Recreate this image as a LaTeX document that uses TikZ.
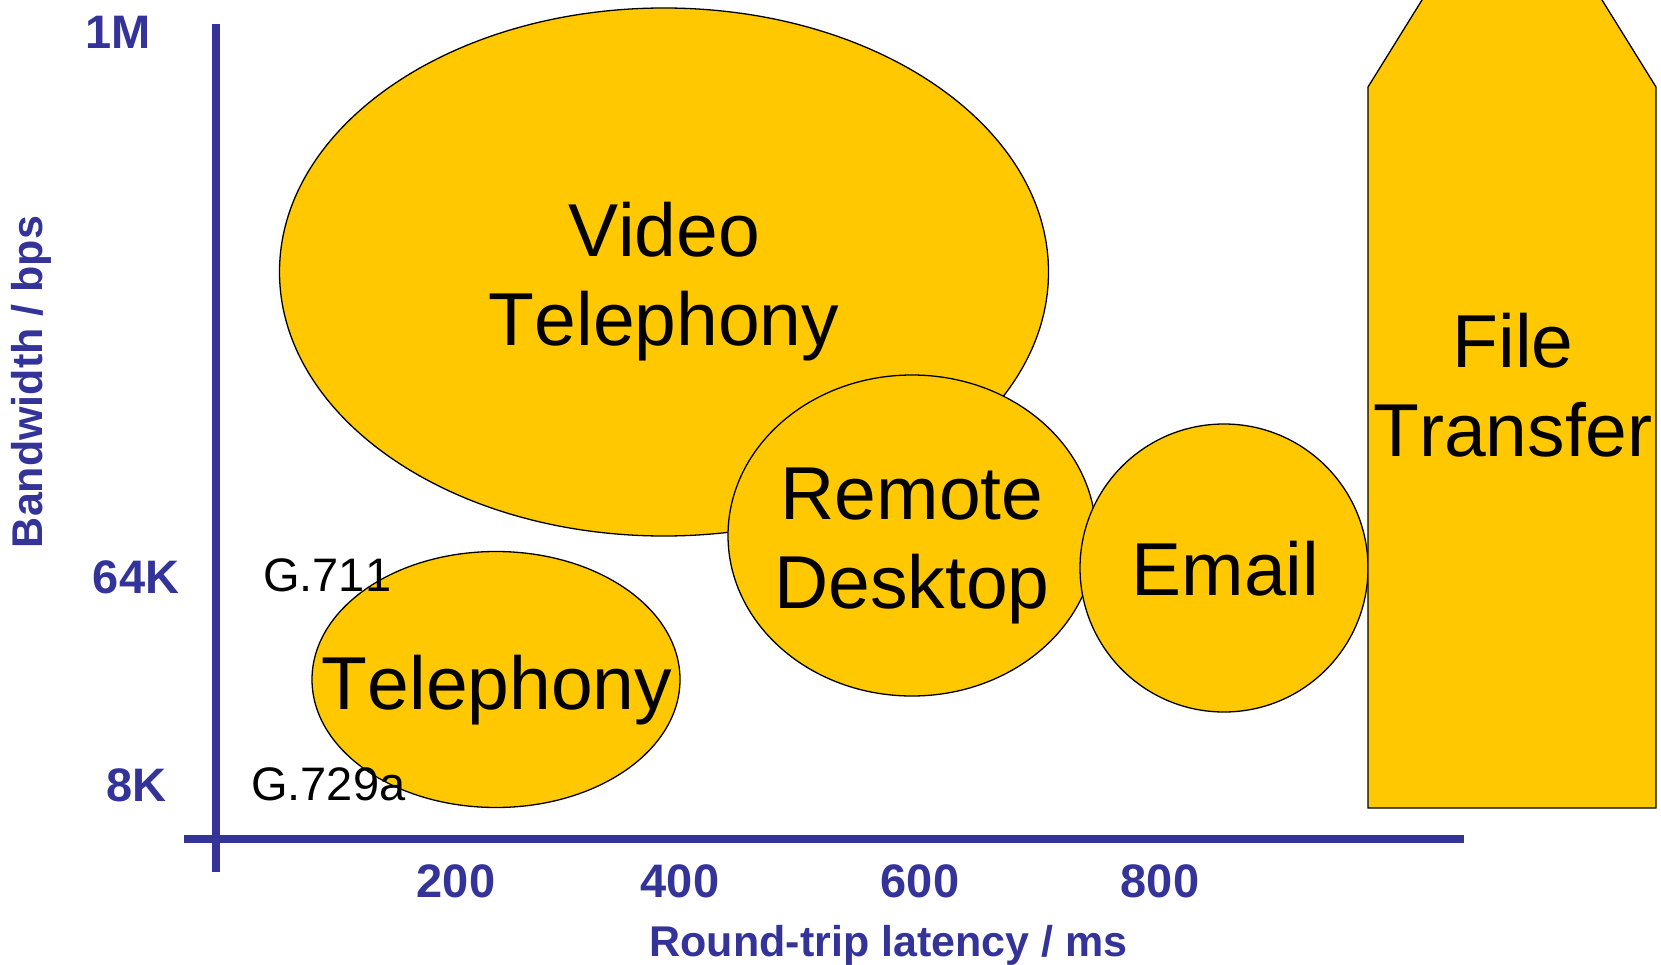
\documentclass[tikz,border=0pt]{standalone}
\usepackage{fontspec}
\setmainfont{Liberation Sans}[Kerning=Off]
\usetikzlibrary{shapes.geometric}
\definecolor{axisblue}{HTML}{333399}
\definecolor{appyellow}{HTML}{FFC800}
\tikzset{
  appshape/.style={shape=ellipse, draw=black, line width=1.3pt, fill=appyellow, inner sep=0pt},
  bigtext/.style={font=\fontsize{75}{89}\selectfont, inner sep=0pt, anchor=base},
  codec/.style={font=\fontsize{47}{56}\selectfont, inner sep=0pt, anchor=base west},
  ticklabel/.style={font=\bfseries\fontsize{47}{56}\selectfont, text=axisblue, inner sep=0pt, anchor=base},
  axistitle/.style={font=\bfseries\fontsize{43}{52}\selectfont, text=axisblue, inner sep=0pt, anchor=base},
  axisline/.style={draw=axisblue, line width=8pt, line cap=butt}
}
\begin{document}
\begin{tikzpicture}[x=1pt, y=-1pt]
\useasboundingbox (0,0) rectangle (1661,965);

% axes
\coordinate (ytop) at (216,24);
\coordinate (ybot) at (216,872);
\coordinate (xleft) at (184,839);
\coordinate (xright) at (1464,839);
\draw[axisline] (ytop) -- (ybot);
\draw[axisline] (xleft) -- (xright);

% application regions
\node[appshape, minimum width=769pt, minimum height=528pt] (video) at (664,272) {};
\node[appshape, minimum width=368pt, minimum height=321pt] (remote) at (912,535.5) {};
\node[appshape, minimum width=288pt, minimum height=288pt] (email) at (1224,568) {};
\node[appshape, minimum width=368pt, minimum height=256pt] (phone) at (496,679.5) {};

% file transfer arrow, running off the top edge
\begin{scope}
  \clip (0,0) rectangle (1661,965);
  \draw[line width=1.3pt, fill=appyellow, line join=miter]
    (1368,808) -- (1368,87) -- (1512,-145) -- (1656,87) -- (1656,808) -- cycle;
\end{scope}

% region labels
\node[bigtext] (videoA) at (664,256.4) {Video};
\node[bigtext] (videoB) at (664,345.3) {Telephony};
\node[bigtext] (remoteA) at (912,519) {Remote};
\node[bigtext] (remoteB) at (912,608) {Desktop};
\node[bigtext] (emailT) at (1225.5,595.7) {Email};
\node[bigtext] (phoneT) at (497,709) {Telephony};
\node[bigtext] (fileA) at (1513,367.7) {File};
\node[bigtext] (fileB) at (1513,456.7) {Transfer};

% codec labels
\node[codec] (g711) at (263,591.7) {G.711};
\node[codec] (g729) at (251,800) {G.729a};

% bandwidth ticks
\node[ticklabel, anchor=base east] (bw1) at (150.7,48.3) {1M};
\node[ticklabel, anchor=base east] (bw2) at (179.3,593.3) {64K};
\node[ticklabel, anchor=base east] (bw3) at (166.7,801.7) {8K};

% latency ticks
\node[ticklabel] (t200) at (456,897) {200};
\node[ticklabel] (t400) at (680,897) {400};
\node[ticklabel] (t600) at (920,897) {600};
\node[ticklabel] (t800) at (1160,897) {800};

% axis titles
\node[axistitle] (xtitle) at (888.5,956) {Round-trip latency / ms};
\node[axistitle, rotate=90] (ytitle) at (42,382) {Bandwidth / bps};
\end{tikzpicture}
\end{document}
